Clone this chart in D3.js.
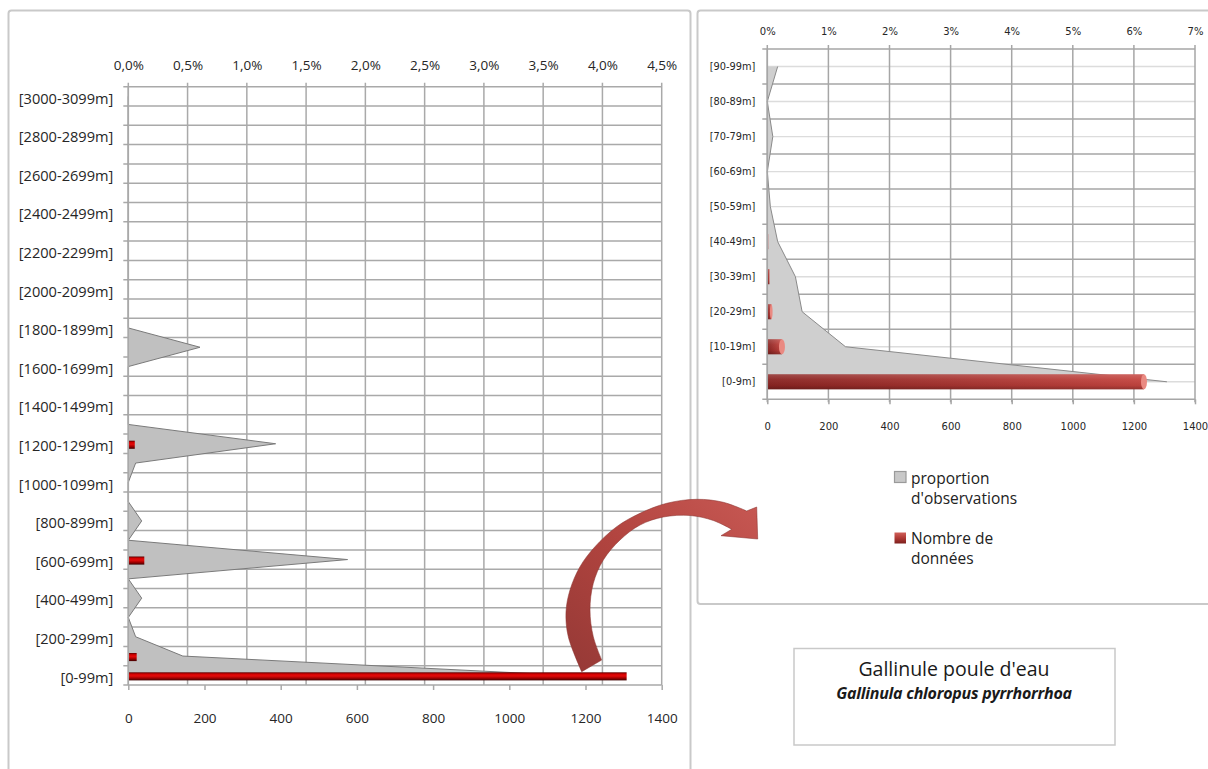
<!DOCTYPE html>
<html>
<head>
<meta charset="utf-8">
<script src="https://cdn.jsdelivr.net/npm/d3@7"></script>
<style>
  html, body { margin: 0; padding: 0; background: #fff; }
  svg { display: block; }
</style>
</head>
<body>
<svg id="chart" width="1208" height="769"></svg>
<script>
// ---- Altitude profile, 100 m bands (0 - 3099 m) ----
const bandsAll = [
  "[0-99m]", "[100-199m]", "[200-299m]", "[300-399m]", "[400-499m]",
  "[500-599m]", "[600-699m]", "[700-799m]", "[800-899m]", "[900-999m]",
  "[1000-1099m]", "[1100-1199m]", "[1200-1299m]", "[1300-1399m]", "[1400-1499m]",
  "[1500-1599m]", "[1600-1699m]", "[1700-1799m]", "[1800-1899m]", "[1900-1999m]",
  "[2000-2099m]", "[2100-2199m]", "[2200-2299m]", "[2300-2399m]", "[2400-2499m]",
  "[2500-2599m]", "[2600-2699m]", "[2700-2799m]", "[2800-2899m]", "[2900-2999m]",
  "[3000-3099m]"
];
// number of records per band
const countsAll = [1308, 22, 1, 0, 1, 0, 42, 0, 1, 0, 0, 1, 17, 0, 0, 0, 0, 1,
                   0, 0, 0, 0, 0, 0, 0, 0, 0, 0, 0, 0, 0];
// share of observations (%) per band
const shareAll = [3.7, 0.46, 0.062, 0, 0.113, 0, 1.85, 0, 0.113, 0, 0, 0.062, 1.243, 0, 0, 0, 0, 0.605,
                  0, 0, 0, 0, 0, 0, 0, 0, 0, 0, 0, 0, 0];
const pctTicksAll = [0, 0.5, 1, 1.5, 2, 2.5, 3, 3.5, 4, 4.5];
const countTicks = [0, 200, 400, 600, 800, 1000, 1200, 1400];

// ---- Detail of the lowest band, 10 m steps (0 - 99 m) ----
const bandsLow = ["[0-9m]", "[10-19m]", "[20-29m]", "[30-39m]", "[40-49m]",
                  "[50-59m]", "[60-69m]", "[70-79m]", "[80-89m]", "[90-99m]"];
const countsLow = [1233, 48, 13, 7, 3, 2, 0, 1, 0, 1];
const shareLow = [6.54, 1.28, 0.57, 0.46, 0.17, 0.05, 0, 0.09, 0, 0.17];
const pctTicksLow = [0, 1, 2, 3, 4, 5, 6, 7];

const legendLabels = [["proportion", "d'observations"], ["Nombre de", "données"]];
const titleMain = "Gallinule poule d'eau";
const titleLatin = "Gallinula chloropus pyrrhorrhoa";

const frLocale = d3.formatLocale({decimal: ",", thousands: " ", grouping: [3], currency: ["", " €"]});
const fmtPct1 = v => frLocale.format(".1f")(v) + "%";
const fmtPct0 = v => d3.format("d")(v) + "%";

const svg = d3.select("#chart");
const defs = svg.append("defs");

svg.append("rect").attr("width", 1208).attr("height", 769).attr("fill", "#fff");

// ---- gradients ----
function linGrad(id, x1, y1, x2, y2, stops) {
  const g = defs.append("linearGradient").attr("id", id)
    .attr("x1", x1).attr("y1", y1).attr("x2", x2).attr("y2", y2);
  stops.forEach(([o, c]) => g.append("stop").attr("offset", o).attr("stop-color", c));
}
linGrad("barDark", 0, 0, 0, 1, [[0, "#5e0000"], [0.22, "#d40000"], [0.45, "#e20a0a"], [0.7, "#a80000"], [1, "#3f0000"]]);
linGrad("barSoft", 0, 0, 1, 0, [[0, "#8a2422"], [1, "#c4443f"]]);
linGrad("barShade", 0, 0, 0, 1, [[0, "rgba(255,255,255,0.18)"], [0.35, "rgba(255,255,255,0.05)"], [0.75, "rgba(0,0,0,0.05)"], [1, "rgba(0,0,0,0.25)"]]);
linGrad("arrowFill", 1, 0, 0, 1, [[0, "#c75853"], [0.5, "#b1443f"], [1, "#953936"]]);
linGrad("legRed", 0, 0, 0, 1, [[0, "#d0605a"], [0.5, "#b03a36"], [1, "#7c1f1d"]]);

// ---- panel frames ----
svg.append("rect").attr("x", 8.5).attr("y", 10.5).attr("width", 682).attr("height", 790)
  .attr("rx", 3).attr("fill", "none").attr("stroke", "#c9c9c9").attr("stroke-width", 2);
svg.append("rect").attr("x", 697.5).attr("y", 10.5).attr("width", 540).attr("height", 593.5)
  .attr("rx", 3).attr("fill", "none").attr("stroke", "#c9c9c9").attr("stroke-width", 2);

// ---- generic horizontal profile chart ----
function profile(o) {
  const g = svg.append("g");
  const y = d3.scaleBand().domain(o.bands.slice().reverse()).range([o.top, o.bottom]);
  const xP = d3.scaleLinear().domain([0, o.pctMax]).range([o.left, o.right]);
  const xC = d3.scaleLinear().domain([0, 1400]).range([o.left, o.right]);
  const bw = y.bandwidth();
  const cy = b => y(b) + bw / 2;

  // minor gridlines through band centres
  if (o.minorGrid) {
    g.append("g").selectAll("line").data(o.bands).join("line")
      .attr("x1", o.left).attr("x2", o.right)
      .attr("y1", b => cy(b)).attr("y2", b => cy(b))
      .attr("stroke", o.minorGrid).attr("stroke-width", 1.4);
  }
  // gridlines on band edges (with small ticks left of the axis)
  const edges = o.bands.map(b => y(b)).concat([o.bottom]);
  g.append("g").selectAll("line").data(edges).join("line")
    .attr("x1", o.left - 5).attr("x2", o.right)
    .attr("y1", d => d).attr("y2", d => d)
    .attr("stroke", o.grid).attr("stroke-width", 1.5);
  // vertical gridlines on percentage ticks
  g.append("g").selectAll("line").data(o.pctTicks).join("line")
    .attr("x1", d => xP(d)).attr("x2", d => xP(d))
    .attr("y1", o.top - 4).attr("y2", o.bottom + o.vExtend)
    .attr("stroke", o.grid).attr("stroke-width", 1.5);

  // share of observations: area from the axis to each band centre
  const pts = o.bands.map((b, i) => ({b, v: o.share[i]}));
  g.append("path").datum(pts)
    .attr("d", d3.area().y(d => cy(d.b)).x0(xP(0)).x1(d => xP(d.v)))
    .attr("fill", o.areaFill);
  g.append("path").datum(pts)
    .attr("d", d3.line().y(d => cy(d.b)).x(d => xP(d.v)))
    .attr("fill", "none").attr("stroke", o.areaLine).attr("stroke-width", 1);

  // number of records: bars
  const bh = bw * o.barRatio;
  const bars = g.append("g");
  o.bands.forEach((b, i) => {
    const v = o.counts[i];
    if (v <= 0) return;
    const x0 = xC(0), w = xC(v) - xC(0);
    const yy = cy(b) - bh / 2 + o.barOffset;
    bars.append("rect").attr("x", x0).attr("y", yy).attr("width", w).attr("height", bh)
      .attr("fill", o.barFill);
    if (o.barShade) {
      bars.append("rect").attr("x", x0).attr("y", yy).attr("width", w).attr("height", bh)
        .attr("fill", o.barShade);
    }
    if (o.capFill && w > 3) {
      bars.append("ellipse").attr("cx", x0 + w).attr("cy", yy + bh / 2)
        .attr("rx", Math.min(3, w / 3)).attr("ry", bh / 2).attr("fill", o.capFill);
    }
  });

  // y axis line
  g.append("line").attr("x1", o.left).attr("x2", o.left).attr("y1", o.top).attr("y2", o.bottom)
    .attr("stroke", o.grid).attr("stroke-width", 1.5);

  // category labels
  const ay = g.append("g").attr("transform", `translate(${o.left},${o.catShift})`)
    .call(d3.axisLeft(y).tickValues(o.bands.filter((b, i) => i % o.labelEvery === 0))
      .tickSize(0).tickPadding(o.catPad));
  // top percentage axis
  const at = g.append("g").attr("transform", `translate(0,${o.top})`)
    .call(d3.axisTop(xP).tickValues(o.pctTicks).tickFormat(o.pctFmt)
      .tickSize(0).tickPadding(o.topPad));
  // bottom count axis
  const ab = g.append("g").attr("transform", `translate(0,${o.bottom})`)
    .call(d3.axisBottom(xC).tickValues(countTicks).tickFormat(d3.format("d"))
      .tickSize(5).tickPadding(o.botPad));
  [ay, at, ab].forEach(a => {
    a.select(".domain").remove();
    a.selectAll(".tick line").attr("stroke", o.grid).attr("stroke-width", 1.5);
    a.selectAll("text").attr("font-family", o.font).attr("fill", "#262626");
  });
  ay.selectAll("text").attr("font-size", o.catSize);
  at.selectAll("text").attr("font-size", o.tickSize);
  ab.selectAll("text").attr("font-size", o.tickSize);
  return g;
}

// whole altitude range
profile({
  bands: bandsAll, counts: countsAll, share: shareAll,
  pctTicks: pctTicksAll, pctMax: 4.5, pctFmt: fmtPct1,
  top: 86.7, bottom: 685, left: 128.3, right: 661.7,
  grid: "#a9a9a9", minorGrid: null, vExtend: 0,
  areaFill: "#c0c0c0", areaLine: "#7a7a7a",
  barRatio: 0.42, barOffset: 1, barFill: "url(#barDark)", barShade: null, capFill: null,
  labelEvery: 2, catPad: 15, catShift: 2.5, topPad: 17, botPad: 23,
  font: "'Open Sans', sans-serif", catSize: "14.6px", tickSize: "13.5px"
});

// lowest band in 10 m steps
profile({
  bands: bandsLow, counts: countsLow, share: shareLow,
  pctTicks: pctTicksLow, pctMax: 7, pctFmt: fmtPct0,
  top: 49, bottom: 399.3, left: 767.3, right: 1195,
  grid: "#a6a6a6", minorGrid: "#dcdcdc", vExtend: 3,
  areaFill: "#cfcfcf", areaLine: "#8a8a8a",
  barRatio: 0.43, barOffset: 0, barFill: "url(#barSoft)", barShade: "url(#barShade)", capFill: "#ea8a82",
  labelEvery: 1, catPad: 12, catShift: 0.5, topPad: 14, botPad: 19,
  font: "'DejaVu Sans', sans-serif", catSize: "9.8px", tickSize: "10px"
});

// ---- legend ----
const leg = svg.append("g").attr("font-family", "'Open Sans', sans-serif").attr("font-size", "15.5px").attr("fill", "#222");
leg.append("rect").attr("x", 894.5).attr("y", 471.5).attr("width", 11.5).attr("height", 11)
  .attr("fill", "#c8c8c8").attr("stroke", "#9a9a9a").attr("stroke-width", 1.2);
leg.append("rect").attr("x", 894.5).attr("y", 532.5).attr("width", 11.5).attr("height", 11)
  .attr("fill", "url(#legRed)");
legendLabels.forEach((lines, k) => {
  const t = leg.append("text").attr("x", 911).attr("y", k === 0 ? 483.5 : 544);
  lines.forEach((s, j) => t.append("tspan").attr("x", 911).attr("dy", j === 0 ? 0 : 20).text(s));
});

// ---- title box ----
svg.append("rect").attr("x", 794).attr("y", 648.5).attr("width", 321).attr("height", 96.5)
  .attr("fill", "#fff").attr("stroke", "#c9c9c9").attr("stroke-width", 1.5);
svg.append("text").attr("x", 954).attr("y", 676).attr("text-anchor", "middle")
  .attr("font-family", "'Open Sans', sans-serif").attr("font-size", "19.5px").attr("fill", "#1a1a1a")
  .text(titleMain);
svg.append("text").attr("x", 954).attr("y", 699).attr("text-anchor", "middle")
  .attr("font-family", "'Open Sans', sans-serif").attr("font-size", "16px")
  .attr("font-weight", "bold").attr("font-style", "italic").attr("letter-spacing", "-0.25px")
  .attr("fill", "#1a1a1a").text(titleLatin);

// ---- curved arrow linking the 0-99 m band to its detail ----
const outerEdge = [[581.7, 671.7], [568.3, 636.7], [566, 612], [570, 590], [580, 566.7], [595, 546.7],
  [616.7, 526.7], [640, 513.3], [666.7, 503.3], [696.7, 499.3], [723.3, 502.3], [746.7, 511]];
const headPts = [[756.7, 507], [757.7, 539], [721, 535.7], [731.7, 529.3]];
const innerEdge = [[731.7, 529.3], [713.3, 520.5], [690, 515.5], [663.3, 517], [640, 525], [620, 540],
  [603.3, 560], [593.3, 583.3], [590, 610], [593.3, 636.7], [601.7, 660]];
const curve = d3.line().curve(d3.curveCatmullRom.alpha(0.5));
const arrowD = curve(outerEdge) +
  headPts.map(p => "L" + p[0] + "," + p[1]).join("") +
  curve(innerEdge).replace(/^M/, "L") + "Z";
svg.append("path").attr("d", arrowD)
  .attr("fill", "url(#arrowFill)").attr("stroke", "#8c3431").attr("stroke-opacity", 0.55)
  .attr("stroke-width", 1);
</script>
</body>
</html>
